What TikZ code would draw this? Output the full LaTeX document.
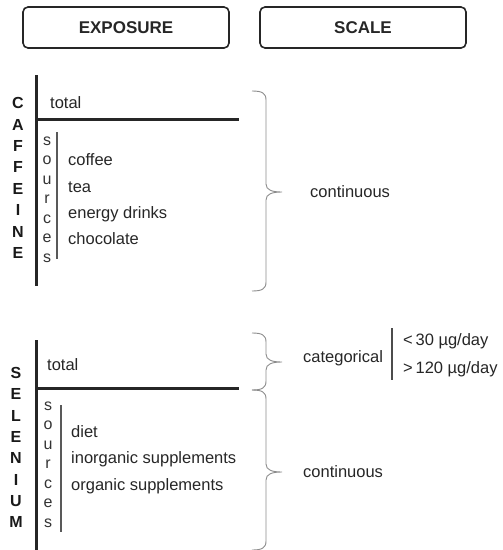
\documentclass[tikz,border=0pt]{standalone}
\usepackage{fontspec}
\setmainfont{Liberation Sans}
\newcommand\mybrace[3]{%
  \draw[braceline] (252,#1) .. controls (262,#1) and (266,#1+2) .. (266,#1+9)
    -- (266,#2-8) .. controls (266,#2-2) and (272,#2) .. (282,#2)
    .. controls (272,#2) and (266,#2+2) .. (266,#2+8)
    -- (266,#3-9) .. controls (266,#3-2) and (262,#3) .. (252,#3);}
\begin{document}
\begin{tikzpicture}[x=1pt,y=-1pt,
  hdr/.style={draw=black!85, line width=1.6pt, rounded corners=5pt, minimum width=206pt, minimum height=41pt, font=\fontsize{17}{19}\selectfont\bfseries, text=black!85},
  big/.style={font=\fontsize{16}{18}\selectfont\bfseries, text=black!90, inner sep=0pt, text height=0.72em, text depth=0pt, yshift=-2pt},
  src/.style={font=\fontsize{16}{18}\selectfont, text=black!80, inner sep=0pt, text height=0.52em, text depth=0pt, yshift=-1.5pt},
  item/.style={font=\fontsize{16.5}{18}\selectfont, text=black!85, anchor=west, inner sep=0pt, text height=0.7em, text depth=0pt, yshift=-2pt},
  thickline/.style={line width=3pt, draw=black!85},
  thinline/.style={line width=1.5pt, draw=black!65},
  braceline/.style={line width=0.9pt, draw=black!45},
]
\useasboundingbox (0,0) rectangle (503,550);

% headers
\node[hdr] (exposure) at (126,27.5) {EXPOSURE};
\node[hdr] (scale) at (363,27.5) {SCALE};

% ---------- caffeine ----------
\coordinate (cv1) at (36,75); \coordinate (cv2) at (36,286);
\coordinate (ch1) at (36,119); \coordinate (ch2) at (239,119);
\coordinate (cs1) at (57,132); \coordinate (cs2) at (57,259);
\draw[thickline] (cv1) -- (cv2);
\draw[thickline] (ch1) -- (ch2);
\draw[thinline] (cs1) -- (cs2);
\foreach \l [count=\i from 0] in {C,A,F,F,E,I,N,E}
  \node[big] (caf\i) at (18,103+21.4*\i) {\l};
\foreach \l [count=\i from 0] in {s,o,u,r,c,e,s}
  \node[src] (csrc\i) at (47,141+19.5*\i) {\l};
\node[item] (ctotal) at (50,103) {total};
\node[item] (coffee) at (68,160) {coffee};
\node[item] (tea) at (68,187) {tea};
\node[item] (energy) at (68,213) {energy drinks};
\node[item] (choc) at (68,239) {chocolate};
\mybrace{91}{192}{291}
\node[item] (ccont) at (310,192) {continuous};

% ---------- selenium ----------
\coordinate (sv1) at (36,340); \coordinate (sv2) at (36,550);
\coordinate (sh1) at (36,388); \coordinate (sh2) at (239,388);
\coordinate (ss1) at (61,405); \coordinate (ss2) at (61,532);
\draw[thickline] (sv1) -- (sv2);
\draw[thickline] (sh1) -- (sh2);
\draw[thinline] (ss1) -- (ss2);
\foreach \l [count=\i from 0] in {S,E,L,E,N,I,U,M}
  \node[big] (sel\i) at (16,373+21.3*\i) {\l};
\foreach \l [count=\i from 0] in {s,o,u,r,c,e,s}
  \node[src] (ssrc\i) at (48,406+19.5*\i) {\l};
\node[item] (stotal) at (47,365) {total};
\node[item] (diet) at (71,432) {diet};
\node[item] (inorg) at (71,458) {inorganic supplements};
\node[item] (org) at (71,485) {organic supplements};
\mybrace{333}{362}{390}
\mybrace{390}{472}{550}
\node[item] (categ) at (303,357) {categorical};
\coordinate (d1) at (392,328); \coordinate (d2) at (392,380);
\draw[line width=2pt, draw=black!70] (d1) -- (d2);
\node[item] (lt) at (403,340) {<\,30 µg/day};
\node[item] (gt) at (403,368) {>\,120 µg/day};
\node[item] (scont) at (303,472) {continuous};
\end{tikzpicture}
\end{document}
